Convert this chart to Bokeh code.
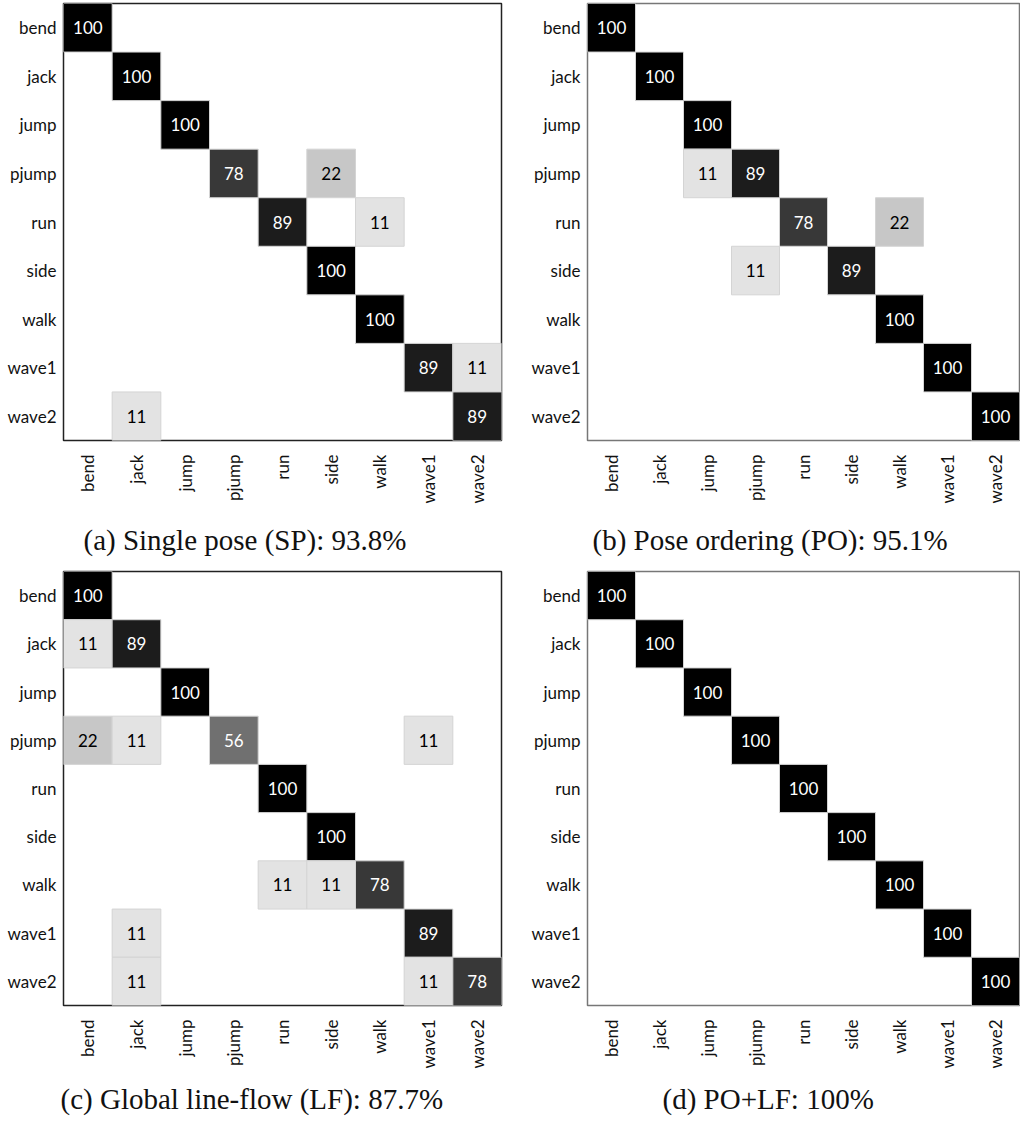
import math
from bokeh.plotting import figure
from bokeh.layouts import row, column
from bokeh.models import ColumnDataSource, LinearColorMapper, Title, FactorRange
from bokeh.transform import transform
from bokeh.palettes import Greys256
from bokeh.embed import file_html
from bokeh.resources import INLINE

classes = ["bend", "jack", "jump", "pjump", "run", "side", "walk", "wave1", "wave2"]

# (true row, predicted column, percent) for each non-empty cell
sp_rows = ["bend", "jack", "jump", "pjump", "pjump", "run", "run", "side", "walk", "wave1", "wave1", "wave2", "wave2"]
sp_cols = ["bend", "jack", "jump", "pjump", "side", "run", "walk", "side", "walk", "wave1", "wave2", "jack", "wave2"]
sp_vals = [100, 100, 100, 78, 22, 89, 11, 100, 100, 89, 11, 11, 89]

po_rows = ["bend", "jack", "jump", "pjump", "pjump", "run", "run", "side", "side", "walk", "wave1", "wave2"]
po_cols = ["bend", "jack", "jump", "jump", "pjump", "run", "walk", "pjump", "side", "walk", "wave1", "wave2"]
po_vals = [100, 100, 100, 11, 89, 78, 22, 11, 89, 100, 100, 100]

lf_rows = ["bend", "jack", "jack", "jump", "pjump", "pjump", "pjump", "pjump", "run", "side",
           "walk", "walk", "walk", "wave1", "wave1", "wave2", "wave2", "wave2"]
lf_cols = ["bend", "bend", "jack", "jump", "bend", "jack", "pjump", "wave1", "run", "side",
           "run", "side", "walk", "jack", "wave1", "jack", "wave1", "wave2"]
lf_vals = [100, 11, 89, 100, 22, 11, 56, 11, 100, 100, 11, 11, 78, 11, 89, 11, 11, 78]

polf_rows = classes
polf_cols = classes
polf_vals = [100, 100, 100, 100, 100, 100, 100, 100, 100]

captions = ["(a) Single pose (SP): 93.8%", "(b) Pose ordering (PO): 95.1%",
            "(c) Global line-flow (LF): 87.7%", "(d) PO+LF: 100%"]

LABEL_FONT = "Lato"
CAP_FONT = "Liberation Serif"

fill_mapper = LinearColorMapper(palette=list(Greys256[::-1]), low=0, high=100)
text_mapper = LinearColorMapper(palette=["#000000", "#ffffff"], low=0, high=100)


def panel(rows, cols, vals, caption, fw, fh, bl, br, bt, bb, cap_offset, cap_standoff, outline):
    src = ColumnDataSource(dict(r=rows, c=cols, v=vals, t=[str(v) for v in vals]))
    p = figure(frame_width=fw, frame_height=fh, output_backend="svg", toolbar_location=None,
               x_range=FactorRange(*classes), y_range=FactorRange(*classes[::-1]),
               min_border_left=bl, min_border_right=br, min_border_top=bt, min_border_bottom=bb)
    p.rect(x="c", y="r", width=1, height=1, source=src,
           fill_color=transform("v", fill_mapper), line_color="#d4d4d4", line_width=1)
    p.text(x="c", y="r", text="t", source=src, text_align="center", text_baseline="middle",
           text_color=transform("v", text_mapper), text_font_size="17px",
           text_font={"value": LABEL_FONT})
    p.grid.visible = False
    p.outline_line_color = outline
    p.outline_line_width = 1.5
    p.background_fill_color = "white"
    p.border_fill_color = "white"
    for ax in (p.xaxis[0], p.yaxis[0]):
        ax.axis_line_color = None
        ax.major_tick_line_color = None
        ax.minor_tick_line_color = None
        ax.major_tick_out = 0
        ax.major_tick_in = 0
        ax.major_label_text_font = LABEL_FONT
        ax.major_label_text_font_size = "17px"
        ax.major_label_text_color = "#111111"
    p.yaxis.major_label_standoff = 7
    p.xaxis.major_label_standoff = 14
    p.xaxis.major_label_orientation = math.pi / 2
    t = Title(text=caption, align="left", offset=cap_offset, standoff=cap_standoff,
              text_font=CAP_FONT, text_font_size="29px", text_font_style="normal",
              text_color="#111111")
    p.add_layout(t, "below")
    return p


pa = panel(sp_rows, sp_cols, sp_vals, captions[0], 438, 437, 63, 2, 3, 130, 20, 30, "#222222")
pb = panel(po_rows, po_cols, po_vals, captions[1], 432, 437, 84, 1, 3, 130, 5, 30, "#777777")
pc = panel(lf_rows, lf_cols, lf_vals, captions[2], 438, 434, 63, 2, 1, 100, -3, 18, "#222222")
pd = panel(polf_rows, polf_cols, polf_vals, captions[3], 432, 434, 84, 1, 1, 100, 75, 18, "#777777")

layout = column(row(pa, pb), row(pc, pd))
open("out.html", "w").write(file_html(layout, INLINE))
